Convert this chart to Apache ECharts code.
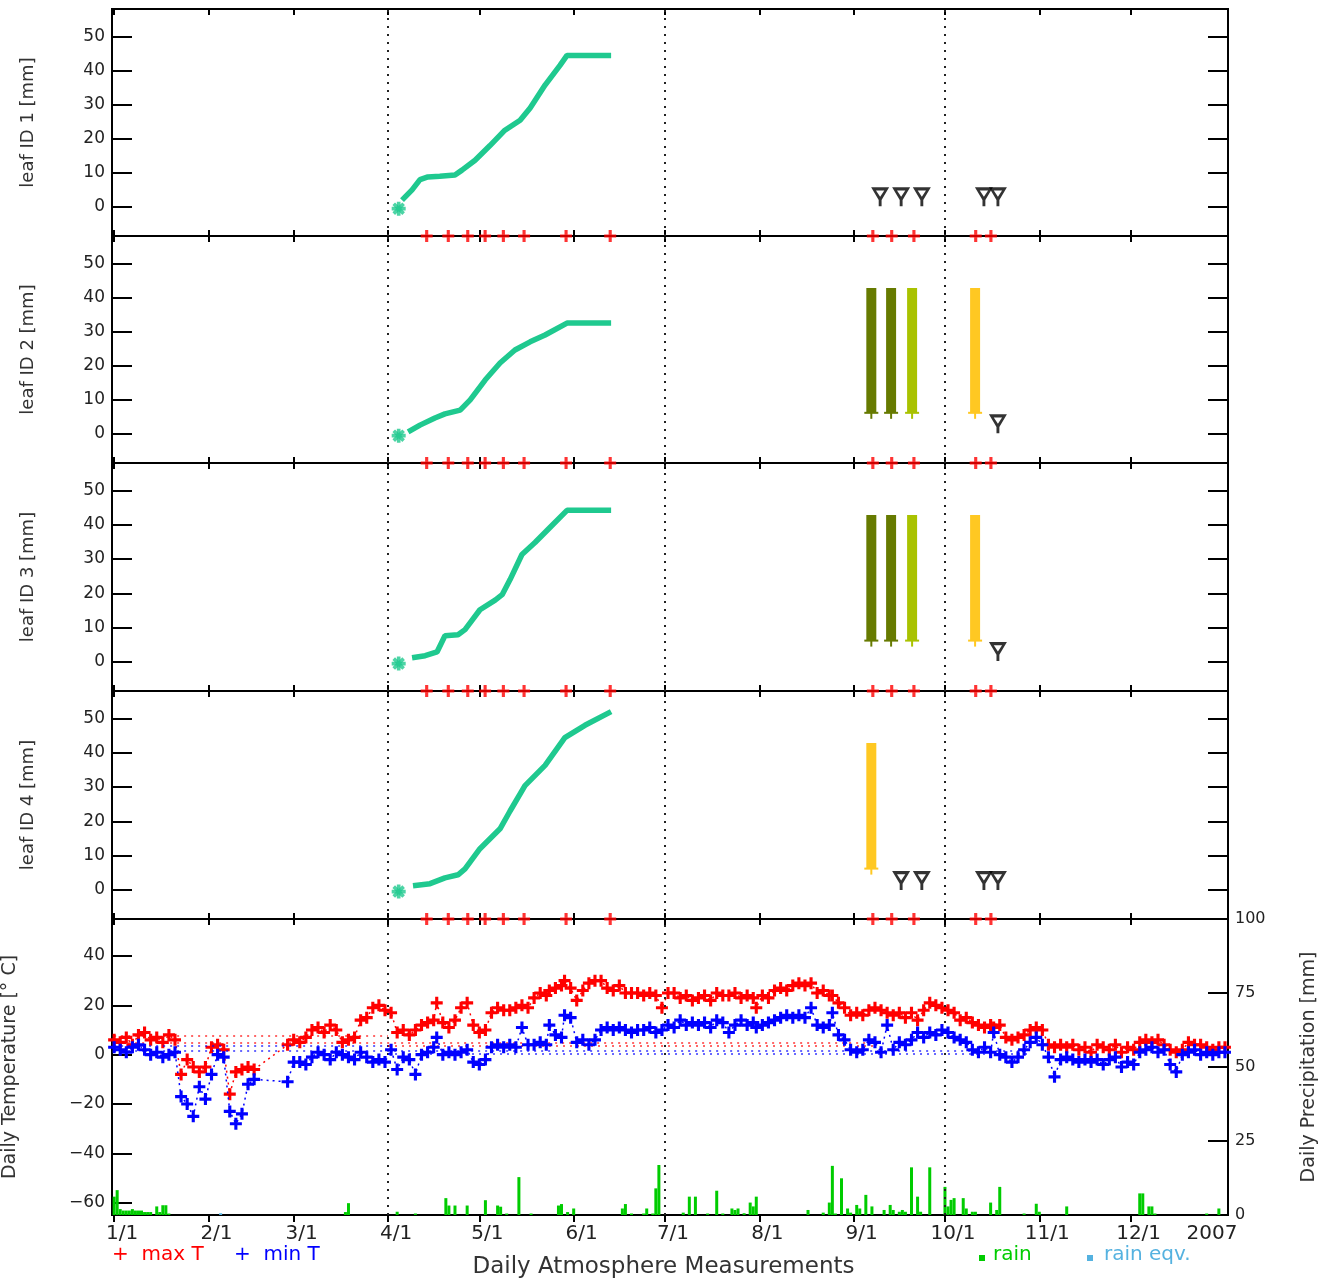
<!DOCTYPE html>
<html>
<head>
<meta charset="utf-8">
<script src="https://cdn.jsdelivr.net/npm/echarts@6/dist/echarts.min.js"></script>
<style>
  html, body { margin: 0; padding: 0; background: #fff; }
  #chart { width: 1327px; height: 1286px; }
</style>
</head>
<body>
<div id="chart"></div>
<script>
// ---- calendar axis (day of year 2006) ----
const monthDays   = [0, 31, 59, 90, 120, 151, 181, 212, 243, 273, 304, 334, 365];
const monthLabels = ['1/1', '2/1', '3/1', '4/1', '5/1', '6/1', '7/1', '8/1', '9/1', '10/1', '11/1', '12/1', '2007'];
const quarterDays = [90, 181, 273];

// ---- leaf panels ----
const leafNames = ['leaf ID 1 [mm]', 'leaf ID 2 [mm]', 'leaf ID 3 [mm]', 'leaf ID 4 [mm]'];
const leafTicks = [0, 10, 20, 30, 40, 50];

// leaf length growth curves [day, mm]
const leaf1 = [[94.6, 2], [97.9, 5], [100.5, 8], [103.1, 8.8], [107, 9], [112, 9.4], [114.3, 10.8], [118.6, 13.7],
  [123.5, 18], [128.4, 22.5], [133.4, 25.4], [136.7, 29], [141.6, 35.7], [146.5, 41.5], [148.8, 44.4], [163.3, 44.4]];
const leaf2 = [[96.6, 0.6], [100.5, 2.6], [105.4, 4.7], [108.7, 5.9], [113.7, 7], [117, 10], [121.9, 15.8], [126.8, 20.8],
  [131.7, 24.6], [136.7, 27], [141.6, 29], [148.8, 32.5], [163.3, 32.5]];
const leaf3 = [[97.9, 1.2], [102.2, 1.8], [106.1, 2.9], [108.7, 7.6], [113, 7.9], [115.3, 9.4], [120.2, 15.2], [125.2, 18],
  [127.5, 19.6], [130.1, 24], [134, 31.3], [138.3, 34.8], [143.2, 39.2], [148.8, 44.2], [163.3, 44.2]];
const leaf4 = [[98.2, 1.2], [103.8, 1.8], [108.7, 3.5], [113, 4.4], [115.3, 6.1], [120.2, 12], [126.8, 17.8], [130.1, 23],
  [135, 30.4], [141.6, 36.3], [148.1, 44.4], [154.7, 48], [163.3, 52]];
const leafCurves = [leaf1, leaf2, leaf3, leaf4];
const leafStart = [93.5, -0.5];          // first sighting of each leaf

// measurement dates (red marks on the panel axes)
const measureDays = [102.7, 109.8, 116.2, 121.9, 127.9, 134.7, 148.5, 163, 249.3, 255.5, 262.8, 283.1, 288.1];

// samples removed (open triangles): days and level per leaf
const removedDays = [[251.7, 258.6, 265.4, 285.8, 290.4], [290.4], [290.4], [258.6, 265.4, 285.8, 290.4]];
const removedLevel = [3, 3, 3, 2.7];

// senescence ranges (vertical bars): day, low, high, stage
const stageDays = [[], [248.8, 255.3, 262.2, 282.9], [248.8, 255.3, 262.2, 282.9], [248.8]];
const stageKind = [[], [0, 0, 1, 2], [0, 0, 1, 2], [2]];
const stageLow = 6.2;
const stageHigh = 42.8;

// ---- daily atmosphere measurements ----
const tDays = [0, 2, 4, 6, 8, 10, 12, 14, 16, 18,
  20, 22, 24, 26, 28, 30, 32, 34, 36, 38,
  40, 42, 44, 46, 57, 59, 61, 63, 65, 67,
  69, 71, 73, 75, 77, 79, 81, 83, 85, 87,
  89, 91, 93, 95, 97, 99, 101, 103, 105, 106,
  108, 110, 112, 114, 116, 118, 120, 122, 124, 126,
  128, 130, 132, 134, 136, 138, 140, 142, 143, 145,
  147, 148, 150, 152, 154, 156, 158, 160, 162, 164,
  166, 168, 170, 172, 174, 176, 178, 180, 182, 184,
  186, 188, 190, 192, 194, 196, 198, 200, 202, 204,
  206, 208, 210, 211, 213, 215, 217, 219, 221, 223,
  225, 227, 229, 231, 233, 235, 236, 238, 240, 242,
  244, 246, 248, 250, 252, 254, 256, 258, 260, 262,
  264, 266, 268, 270, 272, 274, 276, 278, 280, 282,
  284, 286, 288, 289, 291, 293, 295, 297, 299, 301,
  303, 305, 307, 309, 311, 313, 315, 317, 319, 321,
  323, 325, 327, 329, 331, 333, 335, 337, 339, 341,
  343, 345, 347, 349, 351, 353, 355, 357, 359, 361,
  363, 365];
const maxT = [6, 5, 7, 4, 8, 9, 6, 7, 5, 8,
  6, -8, -2, -5, -7, -5, 3, 4, 2, -16,
  -7, -6, -5, -6, 4, 6, 5, 7, 10, 11,
  9, 12, 10, 5, 6, 7, 14, 15, 19, 20,
  18, 17, 9, 10, 8, 10, 12, 13, 14, 21,
  13, 11, 14, 19, 21, 12, 9, 10, 17, 19,
  18, 18, 19, 20, 19, 23, 25, 24, 26, 27,
  28, 30, 27, 22, 26, 29, 30, 30, 27, 26,
  28, 25, 25, 25, 24, 25, 24, 19, 25, 25,
  23, 24, 22, 23, 24, 22, 25, 24, 24, 25,
  23, 24, 23, 19, 24, 23, 26, 27, 26, 28,
  29, 28, 29, 25, 26, 24, 24, 21, 19, 16,
  17, 16, 18, 19, 18, 17, 16, 17, 15, 17,
  14, 18, 21, 20, 19, 18, 17, 14, 15, 13,
  12, 11, 12, 11, 12, 7, 6, 7, 8, 10,
  11, 10, 4, 3, 4, 3, 4, 2, 3, 1,
  4, 3, 2, 4, 1, 3, 2, 5, 6, 5,
  6, 4, 2, 1, 2, 5, 4, 4, 3, 2,
  3, 3];
const minT = [3, 2, 1, 3, 4, 2, 0, 1, -1, 0,
  1, -17, -20, -25, -13, -18, -8, 0, -1, -23,
  -28, -24, -12, -10, -11, -3, -3, -4, -1, 1,
  0, -2, 1, 0, -1, -2, 1, -1, -3, -2,
  -3, 2, -6, -1, -2, -8, 0, 1, 3, 7,
  0, 1, 0, 1, 2, -3, -4, -2, 3, 4,
  3, 4, 3, 11, 4, 4, 5, 4, 12, 8,
  7, 16, 15, 5, 6, 4, 6, 10, 11, 10,
  11, 10, 9, 10, 10, 11, 9, 10, 12, 11,
  14, 12, 13, 12, 13, 11, 14, 13, 9, 12,
  14, 12, 13, 11, 12, 13, 14, 15, 16, 15,
  16, 15, 19, 12, 11, 12, 17, 8, 6, 2,
  1, 2, 6, 5, 1, 12, 2, 5, 4, 6,
  9, 7, 9, 8, 10, 9, 7, 6, 5, 2,
  1, 3, 1, 9, 0, -1, -3, -1, 2, 5,
  7, 4, -1, -9, -2, -1, -2, -3, -2, -3,
  -2, -4, -2, -1, -5, -3, -4, 1, 2, 3,
  1, 2, -4, -7, 0, 1, 2, 0, 1, 0,
  1, 1];

// faint trace levels left by the plotted series: [fromDay, toDay, °C]
const maxTTrace = [[0, 90, 7.5], [0, 250, 5], [90, 250, 3.5]];
const minTTrace = [[0, 90, 3.5], [0, 300, 1.5], [90, 300, 0.5]];

const rainDays = [0, 1, 2, 3, 4, 5, 6, 7, 8, 9, 10, 11, 12, 14, 15, 16, 17, 18, 76, 77,
  93, 99, 109, 110, 112, 116, 122, 126, 127, 129, 133, 137, 146, 147, 149, 151, 167, 168, 170, 174,
  175, 177, 178, 179, 187, 189, 191, 195, 198, 200, 203, 204, 205, 207, 209, 210, 211, 228, 233, 235,
  236, 237, 239, 241, 242, 244, 245, 247, 249, 253, 255, 256, 258, 259, 260, 262, 264, 265, 268, 273,
  274, 275, 276, 279, 280, 282, 283, 288, 290, 291, 299, 303, 304, 313, 337, 338, 340, 341, 342, 359,
  363];
const rainMm = [6.2, 8.4, 2, 1.5, 1.5, 1.5, 2, 1.5, 1.5, 1.5, 1, 1, 1, 2.9, 1, 3.3, 3.3, 0.5, 1, 4,
  1.1, 0.5, 5.7, 3.2, 3.2, 3.2, 5, 3.2, 2.8, 0.5, 12.8, 0.5, 3.2, 3.7, 1, 2.2, 2.2, 3.7, 0.5, 0.5,
  2.2, 0.5, 9, 16.9, 0.8, 6.2, 6.2, 0.5, 8.2, 0.5, 2.2, 1.7, 2.2, 0.6, 4.2, 2.9, 6.2, 1.7, 0.8, 4.2,
  16.6, 0.5, 12.4, 2.2, 0.8, 3.4, 2.2, 6.8, 2.9, 1.7, 3.4, 1.7, 1.1, 1.7, 1.1, 16.1, 6.2, 1.1, 16.1, 9.5,
  2.9, 5.1, 5.7, 5.7, 2.2, 1.1, 1.1, 4.2, 1.7, 9.5, 0.5, 3.8, 1.1, 2.9, 7.3, 7.3, 2.9, 2.9, 0.5, 0.5,
  2.2];
const rainEqvDays = [35];
const rainEqvMm = [0.6];

const tempTicks = [-60, -40, -20, 0, 20, 40];
const precipTicks = [0, 25, 50, 75, 100];

// ---- styling ----
const FONT = '"DejaVu Sans", Verdana, sans-serif';
const GREEN = '#1fc98f';
const STAGE_COLORS = ['#667a00', '#a9c200', '#ffc822'];
const PLUS = 'path://M3.7,0H6.3V3.7H10V6.3H6.3V10H3.7V6.3H0V3.7H3.7Z';
const TRI = 'path://M0,0L20,0L11.6,14L11.6,21L8.4,21L8.4,14Z M5.4,3.6L10,10.4L14.6,3.6Z';
const X_MIN = -0.7, X_MAX = 366;
const LEAF_MIN = -8.5, LEAF_MAX = 58;

const minusSign = v => String(v).replace('-', '\u2212');

const panels = [
  { top: 9, height: 227 },
  { top: 236, height: 227 },
  { top: 463, height: 228 },
  { top: 691, height: 228 },
  { top: 919, height: 296 }
];

const grid = panels.map(p => ({
  left: 112, right: 99, top: p.top, height: p.height,
  show: true, borderColor: '#000', borderWidth: 2, backgroundColor: 'transparent',
  containLabel: false, outerBoundsMode: 'none'
}));

const xAxis = [];
const yAxis = [];
panels.forEach((p, i) => {
  const last = i === panels.length - 1;
  const tickVals = monthDays.slice(0, 12);
  xAxis.push({
    type: 'value', gridIndex: i, min: X_MIN, max: X_MAX, position: 'bottom',
    axisLine: { show: false, onZero: false }, splitLine: { show: false },
    axisTick: { show: true, inside: !last, length: last ? 7 : 6, customValues: tickVals,
      lineStyle: { color: '#000', width: 2 } },
    axisLabel: {
      show: last, customValues: monthDays, margin: 9,
      formatter: v => {
        const k = monthDays.indexOf(v);
        return k === monthDays.length - 1 ? '{e|' + monthLabels[k] + '}' : '{m|' + monthLabels[k] + '}';
      },
      rich: {
        m: { fontFamily: FONT, fontSize: 20, color: '#222', padding: [0, 0, 0, 16] },
        e: { fontFamily: FONT, fontSize: 20, color: '#222', padding: [0, 26, 0, 0] }
      }
    }
  });
  xAxis.push({
    type: 'value', gridIndex: i, min: X_MIN, max: X_MAX, position: 'top',
    axisLine: { show: false, onZero: false }, splitLine: { show: false },
    axisTick: { show: true, inside: true, length: 6, customValues: tickVals,
      lineStyle: { color: '#000', width: 2 } },
    axisLabel: { show: false }
  });

  const leftTicks = last ? tempTicks : leafTicks;
  const rightTicks = last ? precipTicks : leafTicks;
  yAxis.push({
    type: 'value', gridIndex: i, position: 'left',
    min: last ? -65 : LEAF_MIN, max: last ? 55 : LEAF_MAX,
    axisLine: { show: false, onZero: false }, splitLine: { show: false },
    axisTick: { show: true, inside: true, length: 20, customValues: leftTicks,
      lineStyle: { color: '#000', width: 2 } },
    axisLabel: { show: true, customValues: leftTicks, margin: 7, formatter: minusSign,
      fontFamily: FONT, fontSize: 17, color: '#222' },
    name: last ? 'Daily Temperature [° C]' : leafNames[i],
    nameLocation: 'middle', nameRotate: 90, nameGap: last ? 92 : 75, nameMoveOverlap: false,
    nameTextStyle: { fontFamily: FONT, fontSize: last ? 19 : 18, color: '#333' }
  });
  yAxis.push({
    type: 'value', gridIndex: i, position: 'right',
    min: last ? 0 : LEAF_MIN, max: last ? 100 : LEAF_MAX,
    axisLine: { show: false, onZero: false }, splitLine: { show: false },
    axisTick: { show: true, inside: true, length: 20, customValues: rightTicks,
      lineStyle: { color: '#000', width: 2 } },
    axisLabel: { show: last, customValues: rightTicks, margin: 7,
      fontFamily: FONT, fontSize: 16, color: '#222' },
    name: last ? 'Daily Precipitation [mm]' : '',
    nameLocation: 'middle', nameRotate: 90, nameGap: 72, nameMoveOverlap: false,
    nameTextStyle: { fontFamily: FONT, fontSize: 19, color: '#333' }
  });
});

// vertical dotted guides at the quarter starts
const quarterMarks = {
  silent: true, symbol: ['none', 'none'], animation: false,
  label: { show: false },
  lineStyle: { type: [2, 6], width: 2, color: '#222' },
  data: quarterDays.map(d => ({ xAxis: d }))
};

const series = [];
leafCurves.forEach((curve, i) => {
  const xi = 2 * i, yi = 2 * i;
  series.push({
    type: 'line', xAxisIndex: xi, yAxisIndex: yi, data: curve,
    symbol: 'none', lineStyle: { color: GREEN, width: 5.5 }, z: 3,
    markLine: quarterMarks
  });
  series.push({
    type: 'scatter', xAxisIndex: xi, yAxisIndex: yi,
    data: [{ value: leafStart }, { value: leafStart, symbolRotate: 45 }],
    symbol: PLUS, symbolSize: 14, itemStyle: { color: GREEN }, z: 4
  });
  series.push({
    type: 'scatter', xAxisIndex: xi, yAxisIndex: yi, clip: false,
    data: measureDays.map(d => [d, LEAF_MIN]),
    symbol: PLUS, symbolSize: 12, itemStyle: { color: '#ff0000' }, z: 6
  });
  series.push({
    type: 'scatter', xAxisIndex: xi, yAxisIndex: yi,
    data: removedDays[i].map(d => [d, removedLevel[i]]),
    symbol: TRI, symbolSize: [18, 19], itemStyle: { color: '#000' }, z: 5
  });
  if (stageDays[i].length) {
    series.push({
      type: 'custom', xAxisIndex: xi, yAxisIndex: yi, z: 4,
      data: stageDays[i].map((d, k) => [d, stageLow, stageHigh, stageKind[i][k]]),
      renderItem: (params, api) => {
        const top = api.coord([api.value(0), api.value(2)]);
        const bot = api.coord([api.value(0), api.value(1)]);
        const c = STAGE_COLORS[api.value(3)];
        const w = 10;
        return {
          type: 'group',
          children: [
            { type: 'rect', shape: { x: top[0] - w / 2, y: top[1], width: w, height: bot[1] - top[1] },
              style: { fill: c } },
            { type: 'rect', shape: { x: top[0] - 7, y: bot[1] - 1, width: 14, height: 2 }, style: { fill: c } },
            { type: 'rect', shape: { x: top[0] - 1, y: bot[1], width: 2, height: 6 }, style: { fill: c } }
          ]
        };
      }
    });
  }
});

// bottom panel: precipitation bars
const rainData = rainDays.map((d, k) => [d, rainMm[k]])
  .concat(rainEqvDays.map((d, k) => ({ value: [d, rainEqvMm[k]], itemStyle: { color: '#55b2e0' } })));
series.push({
  type: 'bar', xAxisIndex: 8, yAxisIndex: 9, data: rainData, barWidth: 3,
  itemStyle: { color: '#00cc00' }, z: 2, markLine: quarterMarks
});

const traceLines = (trace, color) => ({
  silent: true, symbol: ['none', 'none'], animation: false, label: { show: false },
  lineStyle: { type: [2, 5], width: 1.5, color: color, opacity: 0.8 },
  data: trace.map(t => [{ coord: [t[0], t[2]] }, { coord: [t[1], t[2]] }])
});

series.push({
  type: 'line', xAxisIndex: 8, yAxisIndex: 8,
  data: tDays.map((d, k) => [d, maxT[k]]),
  symbol: PLUS, symbolSize: 12, itemStyle: { color: '#ff0000' },
  lineStyle: { color: '#ff0000', width: 1.5, type: [2, 4] }, z: 4,
  markLine: traceLines(maxTTrace, '#ff0000')
});
series.push({
  type: 'line', xAxisIndex: 8, yAxisIndex: 8,
  data: tDays.map((d, k) => [d, minT[k]]),
  symbol: PLUS, symbolSize: 12, itemStyle: { color: '#0000ff' },
  lineStyle: { color: '#0000ff', width: 1.5, type: [2, 4] }, z: 5,
  markLine: traceLines(minTTrace, '#0000ff')
});

const option = {
  animation: false,
  backgroundColor: '#fff',
  grid, xAxis, yAxis, series,
  graphic: [
    { type: 'text', left: 112, top: 1245, style: { text: '+  max T', fill: '#ff0000', font: '20px ' + FONT } },
    { type: 'text', left: 234, top: 1245, style: { text: '+  min T', fill: '#0000ff', font: '20px ' + FONT } },
    { type: 'rect', left: 979, top: 1255, shape: { width: 6, height: 6 }, style: { fill: '#00cc00' } },
    { type: 'text', left: 993, top: 1245, style: { text: 'rain', fill: '#00cc00', font: '20px ' + FONT } },
    { type: 'rect', left: 1087, top: 1255, shape: { width: 6, height: 6 }, style: { fill: '#55b2e0' } },
    { type: 'text', left: 1104, top: 1245, style: { text: 'rain eqv.', fill: '#55b2e0', font: '20px ' + FONT } },
    { type: 'text', left: 'center', top: 1256,
      style: { text: 'Daily Atmosphere Measurements', fill: '#333', font: '23px ' + FONT } }
  ]
};

const chart = echarts.init(document.getElementById('chart'), null, { renderer: 'canvas' });
chart.setOption(option);
</script>
</body>
</html>
